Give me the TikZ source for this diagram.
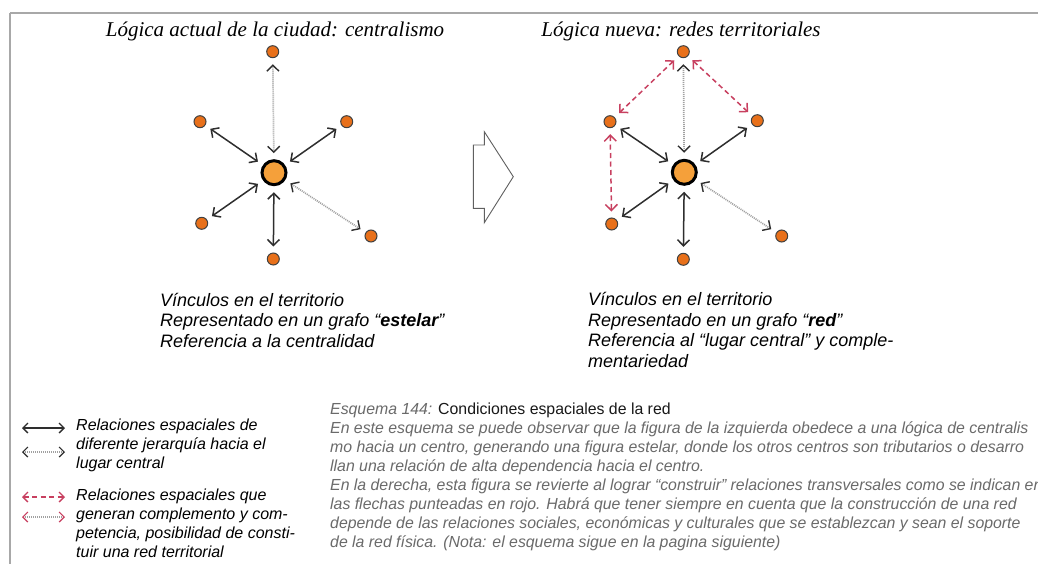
\documentclass[tikz,border=0pt]{standalone}
\usepackage{fontspec}
\setmainfont{Liberation Serif}
\newfontfamily\arialfont{Liberation Sans}
\newfontfamily\narrowsans[FakeStretch=0.99]{Liberation Sans}
\usetikzlibrary{arrows.meta}
\definecolor{orsmall}{HTML}{E8701A}
\definecolor{orbig}{HTML}{F5A03A}
\definecolor{linegray}{HTML}{2E2E2E}
\definecolor{dotgray}{HTML}{A0A0A0}
\definecolor{redlink}{HTML}{C84060}
\definecolor{captiongray}{HTML}{6A6A6A}
\definecolor{framegray}{HTML}{A8A8A8}
\begin{document}
\begin{tikzpicture}[x=1pt,y=-1pt,
  small/.style={circle,fill=orsmall,draw=black!75,line width=1pt,inner sep=0pt,minimum size=12pt},
  hub/.style={circle,fill=orbig,draw=black,line width=3pt,inner sep=0pt,minimum size=24pt},
  link/.style={draw=linegray,line width=1.5pt,{Straight Barb[length=6pt,width=12pt]}-{Straight Barb[length=6pt,width=12pt]},shorten <=6pt,shorten >=6pt},
  weak/.style={draw=dotgray,line width=1.7pt,dash pattern=on 1pt off 1pt,
    {Straight Barb[length=6pt,width=12pt,line width=1.4pt,color=linegray]}-{Straight Barb[length=6pt,width=12pt,line width=1.4pt,color=linegray]},shorten <=6pt,shorten >=6pt},
  comp/.style={draw=redlink,line width=1.5pt,dash pattern=on 5pt off 3.5pt,
    {Straight Barb[length=6pt,width=12pt]}-{Straight Barb[length=6pt,width=12pt]},shorten <=6pt,shorten >=6pt},
  title/.style={font=\itshape\fontsize{21}{24}\selectfont,inner sep=0pt},
  body/.style={font=\arialfont\itshape\fontsize{18}{20.5}\selectfont,align=left,inner sep=0pt,anchor=west},
  legend/.style={font=\arialfont\itshape\fontsize{16}{19}\selectfont,align=left,inner sep=0pt,anchor=west},
  caption/.style={font=\narrowsans\itshape\fontsize{16}{19}\selectfont,align=left,inner sep=0pt,anchor=west,text=captiongray}
]
\useasboundingbox (0,0) rectangle (1038,564);
\fill[white] (0,0) rectangle (1038,564);
% frame lines
\draw[framegray,line width=2pt] (10,13) -- (1038,13);
\draw[framegray,line width=1.5pt] (10,13) -- (10,564);

% titles
\node[title] (t1) at (275,31) {Lógica actual de la ciudad: centralismo};
\node[title] (t2) at (681,31) {Lógica nueva: redes territoriales};

% left graph
\node[hub] (c1) at (274,172.7) {};
\node[small] (a1) at (272.7,51.7) {};
\node[small] (b1) at (200,121.7) {};
\node[small] (d1) at (346.7,121.7) {};
\node[small] (e1) at (201.7,223.3) {};
\node[small] (f1) at (273.3,259) {};
\node[small] (g1) at (371,236) {};
\draw[weak] (c1) -- (a1);
\draw[link] (c1) -- (b1);
\draw[link] (c1) -- (d1);
\draw[link] (c1) -- (e1);
\draw[link] (c1) -- (f1);
\draw[weak] (c1) -- (g1);

% transition arrow
\coordinate (p1) at (473.3,145);
\coordinate (p2) at (484.3,145);
\coordinate (p3) at (484.3,131.7);
\coordinate (p4) at (513.3,176.7);
\coordinate (p5) at (484.3,222.7);
\coordinate (p6) at (484.3,208.3);
\coordinate (p7) at (473.3,208.3);
\draw[gray!75!black,line width=0.9pt,line join=miter] (p1) -- (p2) -- (p3) -- (p4) -- (p5) -- (p6) -- (p7) -- cycle;

% right graph
\node[hub] (c2) at (684.3,172.3) {};
\node[small] (a2) at (683.3,51.7) {};
\node[small] (b2) at (610,121.7) {};
\node[small] (d2) at (757.3,120.7) {};
\node[small] (e2) at (611.7,224) {};
\node[small] (f2) at (683.3,259.3) {};
\node[small] (g2) at (781.7,236) {};
\draw[weak] (c2) -- (a2);
\draw[link] (c2) -- (b2);
\draw[link] (c2) -- (d2);
\draw[link] (c2) -- (e2);
\draw[link] (c2) -- (f2);
\draw[weak] (c2) -- (g2);
\draw[comp] (a2) -- (b2);
\draw[comp] (a2) -- (d2);
\draw[comp] (b2) -- (e2);

% descriptions
\node[body] (txt1) at (160,320) {Vínculos en el territorio\\Representado en un grafo “\textbf{estelar}”\\Referencia a la centralidad};
\node[body] (txt2) at (588,330) {Vínculos en el territorio\\Representado en un grafo “\textbf{red}”\\Referencia al “lugar central” y comple-\\mentariedad};

% legend
\coordinate (l1a) at (22,428); \coordinate (l1b) at (65,428);
\coordinate (l2a) at (22,452); \coordinate (l2b) at (65,452);
\coordinate (l3a) at (22,497); \coordinate (l3b) at (65,497);
\coordinate (l4a) at (22,517); \coordinate (l4b) at (65,517);
\draw[draw=linegray,line width=1.3pt,{Straight Barb[length=5pt,width=10pt]}-{Straight Barb[length=5pt,width=10pt]}] (l1a) -- (l1b);
\draw[draw=dotgray,line width=1.2pt,dash pattern=on 1pt off 1pt,{Straight Barb[length=5pt,width=10pt,line width=1.2pt,color=linegray]}-{Straight Barb[length=5pt,width=10pt,line width=1.2pt,color=linegray]}] (l2a) -- (l2b);
\draw[draw=redlink,line width=1.3pt,dash pattern=on 5pt off 3.5pt,{Straight Barb[length=5pt,width=10pt]}-{Straight Barb[length=5pt,width=10pt]}] (l3a) -- (l3b);
\draw[draw=dotgray,line width=1.2pt,dash pattern=on 1pt off 1pt,{Straight Barb[length=5pt,width=10pt,line width=1.2pt,color=redlink]}-{Straight Barb[length=5pt,width=10pt,line width=1.2pt,color=redlink]}] (l4a) -- (l4b);
\node[legend] (lg1) at (76,445) {Relaciones espaciales de\\diferente jerarquía hacia el\\lugar central};
\node[legend] (lg2) at (76,523) {Relaciones espaciales que\\generan complemento y com-\\petencia, posibilidad de consti-\\tuir una red territorial};

% caption
\node[caption] (cap) at (330,477) {Esquema 144: {\upshape\color{black!90}Condiciones espaciales de la red}\\
En este esquema se puede observar que la figura de la izquierda obedece a una lógica de centralis\\
mo hacia un centro, generando una figura estelar, donde los otros centros son tributarios o desarro\\
llan una relación de alta dependencia hacia el centro.\\
En la derecha, esta figura se revierte al lograr “construir” relaciones transversales como se indican en\\
las flechas punteadas en rojo. Habrá que tener siempre en cuenta que la construcción de una red\\
depende de las relaciones sociales, económicas y culturales que se establezcan y sean el soporte\\
de la red física. (Nota: el esquema sigue en la pagina siguiente)};
\end{tikzpicture}
\end{document}
